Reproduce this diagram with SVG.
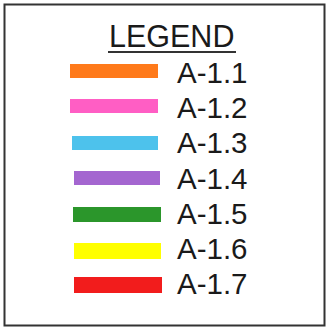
<svg xmlns="http://www.w3.org/2000/svg" width="327" height="329" viewBox="0 0 327 329">
<style>
.t{font-family:"Liberation Sans",Arial,sans-serif;font-size:29.5px;fill:#1a1a1a}
</style>
<rect width="327" height="329" fill="#fff"/>
<rect x="4.5" y="4.5" width="320" height="321" fill="#fff" stroke="#333" stroke-width="2"/>
<g id="title">
<text class="t" x="109" y="47" style="font-size:30.5px">LEGEND</text>
<line x1="108" y1="52" x2="236" y2="52" stroke="#333" stroke-width="2"/>
</g>
<g id="a11"><rect x="70" y="64" width="88" height="14" fill="#FF7A1A"/><text class="t" x="177" y="83">A-1.1</text></g>
<g id="a12"><rect x="70" y="99" width="88" height="14" fill="#FF5EC4"/><text class="t" x="177" y="118">A-1.2</text></g>
<g id="a13"><rect x="72" y="136" width="86" height="14" fill="#4DC2EC"/><text class="t" x="177" y="153">A-1.3</text></g>
<g id="a14"><rect x="74" y="171" width="86" height="14" fill="#A466D0"/><text class="t" x="177" y="189">A-1.4</text></g>
<g id="a15"><rect x="73" y="207" width="88" height="15" fill="#2B962B"/><text class="t" x="177" y="224">A-1.5</text></g>
<g id="a16"><rect x="74" y="243" width="87" height="16" fill="#FFFF00"/><text class="t" x="177" y="259">A-1.6</text></g>
<g id="a17"><rect x="74" y="277" width="88" height="16" fill="#F21C1C"/><text class="t" x="177" y="294">A-1.7</text></g>
</svg>
